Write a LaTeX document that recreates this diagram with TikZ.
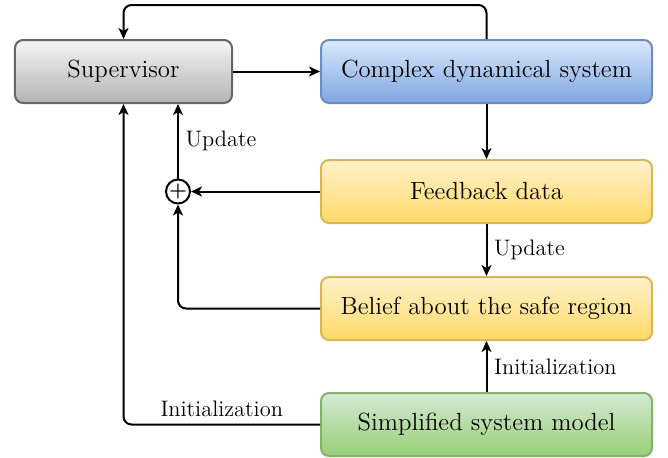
\documentclass[tikz,border=0pt]{standalone}
\usepackage{xcolor}
\usepackage{tikz}
\usetikzlibrary{positioning, arrows.meta}

\definecolor{grayTop}{HTML}{F5F5F5}
\definecolor{grayBot}{HTML}{B3B3B3}
\definecolor{grayLine}{HTML}{666666}
\definecolor{blueTop}{HTML}{DAE8FC}
\definecolor{blueBot}{HTML}{7EA6E0}
\definecolor{blueLine}{HTML}{6C8EBF}
\definecolor{yellowTop}{HTML}{FFF2CC}
\definecolor{yellowBot}{HTML}{FFD966}
\definecolor{yellowLine}{HTML}{D6B656}
\definecolor{greenTop}{HTML}{D5E8D4}
\definecolor{greenBot}{HTML}{97D077}
\definecolor{greenLine}{HTML}{82B366}

\tikzset{
    block/.style={draw, line width=1pt, rounded corners=4pt, minimum height=31.5pt,
        align=center, font=\fontsize{12.4}{15}\selectfont},
    graybox/.style={block, draw=grayLine, top color=grayTop, bottom color=grayBot, minimum width=108.5pt},
    bluebox/.style={block, draw=blueLine, top color=blueTop, bottom color=blueBot, minimum width=165.5pt},
    yellowbox/.style={block, draw=yellowLine, top color=yellowTop, bottom color=yellowBot, minimum width=165.5pt},
    greenbox/.style={block, draw=greenLine, top color=greenTop, bottom color=greenBot, minimum width=165.5pt},
    sumnode/.style={draw, circle, line width=1pt, inner sep=0pt, minimum size=12pt, font=\bfseries},
    lbl/.style={font=\fontsize{11.2}{13}\selectfont}
}

\begin{document}
\begin{tikzpicture}[>={Stealth[length=5.5pt,width=5pt,inset=1.5pt]}, line width=1pt]
        \useasboundingbox (-61.75pt,-192.75pt) rectangle (272.25pt,35.75pt);

        % Nodes
        \node (sup) [graybox] {Supervisor};
        \node (cds) [bluebox, right=43.5pt of sup] {Complex dynamical system};
        \node (fb) [yellowbox, below=27.5pt of cds] {Feedback data};
        \node (bel) [yellowbox, below=26pt of fb] {Belief about the safe region};
        \node (sim) [greenbox, below=25.5pt of bel] {Simplified system model};
        \coordinate (sumx) at ([xshift=27.25pt]sup.south);
        \node (sum) [sumnode] at (sumx |- fb) {+};

        % Arrows
        \draw[->] (sup) -- (cds);
        \draw[->] (cds) -- (fb);
        \draw[->] (fb) -- (sum);
        \draw[->] (sum) -- node[lbl, right] {Update} (sumx);
        \draw[->] (fb) -- node[lbl, right] {Update} (bel);
        \draw[->] (sim) -- node[lbl, right] {Initialization} (bel);
        \draw[->, rounded corners=4pt] (bel.west) -| (sum);
        \draw[->, rounded corners=4pt] (sim.west) -| node[lbl, pos=0.25, above] {Initialization} (sup.south);
        \draw[->, rounded corners=4pt] (cds.north) -- ++(0,17pt) -| (sup.north);

    \end{tikzpicture}
\end{document}
